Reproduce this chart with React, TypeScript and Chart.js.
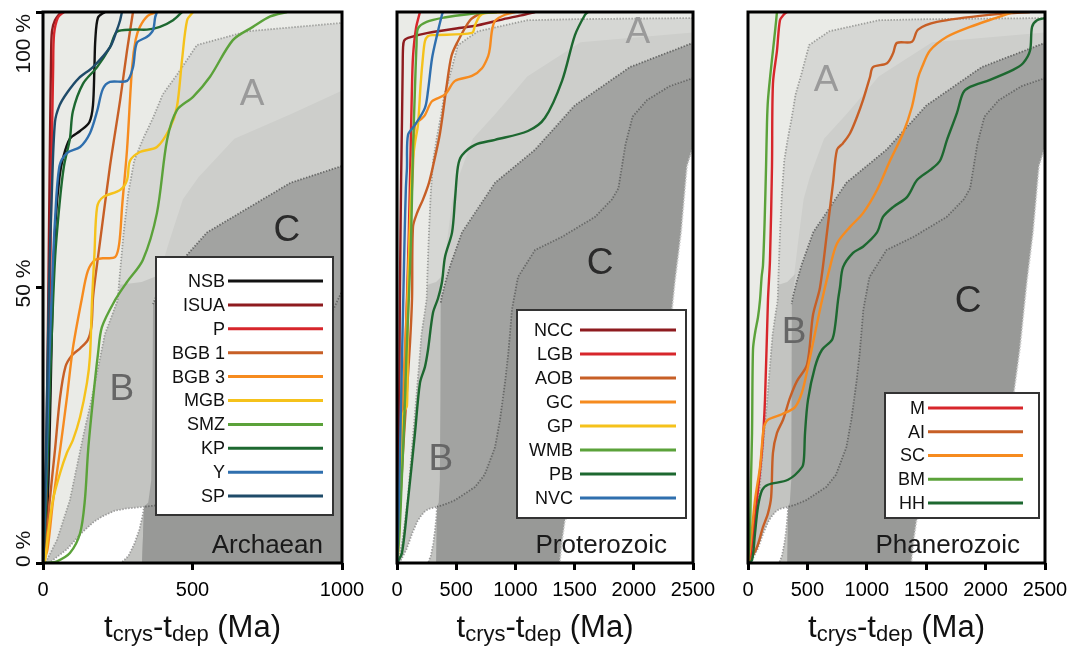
import React, { useEffect, useRef } from "react";
import { Chart, registerables } from "chart.js";
Chart.register(...registerables);

type P = [number, number];
const FONT = '"Liberation Sans", Arimo, Arial, Helvetica, sans-serif';

// ---------- shaded envelopes (Ma, %) ----------
const plotBack: P[] = [[-20, -2], [2600, -2], [2600, 102], [-20, 102]];
const envAEdge: P[] = [[2600, 99], [2500, 98.9], [1500, 98.7], [1100, 98.5], [684, 96.5], [515, 94], [448, 88.6], [400, 85], [370, 81], [335, 77], [305, 73], [285, 67], [270, 60], [258, 53], [250, 47.7], [207, 41.5], [185, 35.6], [162, 29.6], [137, 23.6], [113, 17.4], [90, 11.4], [47, 4.2], [13, 0.5], [5, 0]];
const envA2Edge: P[] = [[2600, 96.4], [2500, 96.3], [1550, 94.5], [1100, 88.3], [990, 85.5], [830, 81.5], [640, 77], [520, 70], [468, 66], [420, 58], [390, 52.5]];
const envBArea: P[] = [[400, 52.5], [330, 51], [258, 50.5], [250, 47.7], [207, 41.5], [185, 35.6], [162, 29.6], [137, 23.6], [113, 17.4], [90, 11.4], [47, 4.2], [13, 0.5], [5, 0], [5, -2], [368, -2], [368, 47]];
const envCOuterEdge: P[] = [[2600, 95], [2500, 94.4], [1968, 90], [1500, 83], [1166, 75], [828, 69], [549, 60], [450, 54], [410, 51], [380, 48.5], [368, 47]];
const envCOuterFoot: P[] = [[366, 30], [362, 15], [352, 11], [338, 10.2]];
const envCInnerEdge: P[] = [[2600, 88.5], [2500, 88], [2300, 86.5], [2111, 84], [1990, 81], [1930, 76], [1900, 72], [1870, 68], [1816, 66], [1672, 62.8], [1394, 59.2], [1166, 56.8], [1022, 51.9], [971, 46], [940, 38], [912, 32.7], [870, 26], [828, 21], [740, 16], [659, 13.8], [490, 11.4], [400, 10.6], [338, 10.2]];
const envCRightEdge: P[] = [[2600, 76], [2500, 75.5], [2450, 72], [2400, 60], [2348, 51], [2290, 39], [2240, 31], [2150, 24], [1950, 18], [1700, 13], [1480, 9.5], [1420, 7.8], [1395, 4], [1375, 0]];
const holeTopEdge: P[] = [[18, 0], [30, 0.4], [80, 2.5], [130, 5.5], [170, 7.5], [200, 8.5], [240, 9.5], [280, 9.9], [338, 10.2]];
const holeRightEdge: P[] = [[338, 10.2], [333, 8.5], [322, 6], [306, 3.5], [286, 1.3], [262, 0]];

// ---------- Archaean ----------
const nsb: P[] = [[0, 0], [15, 10], [25, 30], [33, 50], [42, 62], [55, 70], [67, 73.5], [90, 77], [124, 78.4], [155, 80], [167, 83], [172, 90], [175, 95], [184, 99], [207, 100]];
const isua: P[] = [[0, 0], [8, 10], [16, 40], [22, 70], [27, 92], [30, 96.5], [40, 98.5], [60, 100]];
const pSeries: P[] = [[0, 0], [10, 8], [20, 35], [28, 70], [34, 90], [37, 96], [50, 99], [70, 100]];
const bgb1: P[] = [[0, 0], [10, 3], [22, 11], [40, 20.5], [57, 30], [75, 35.6], [97, 37.7], [125, 39], [150, 40.5], [162, 43], [167, 48], [174, 51.4], [190, 58], [224, 72], [258, 84], [281, 93], [301, 100]];
const bgb3: P[] = [[0, 0], [15, 2.5], [33, 11], [57, 20.5], [80, 30], [100, 39], [130, 48], [150, 53], [174, 55], [200, 55.3], [241, 55.5], [255, 58], [265, 65], [281, 75], [298, 90], [310, 95], [324, 97.3], [350, 99.3], [381, 100]];
const mgb: P[] = [[0, 0], [7, 0.5], [17, 5.4], [33, 11.4], [57, 16.3], [80, 20], [100, 22.3], [124, 26.5], [147, 32.7], [157, 37.4], [164, 47.7], [172, 56], [181, 64.6], [201, 66.4], [258, 67.7], [281, 69.5], [291, 73], [324, 74.6], [381, 75.5], [425, 79], [448, 82.8], [465, 91.3], [482, 98.5], [502, 100]];
const smz: P[] = [[0, 0], [20, 0.05], [47, 0.3], [90, 1.8], [124, 5.4], [140, 11.4], [151, 20.5], [167, 29.6], [184, 38], [197, 42.8], [241, 47.7], [281, 51], [334, 55], [381, 63.5], [415, 76.8], [448, 82.2], [502, 84.6], [558, 88.2], [635, 94.9], [702, 97.3], [760, 99.2], [816, 100]];
const kp: P[] = [[0, 0], [10, 10], [25, 35], [40, 55], [55, 65], [70, 72], [90, 77], [100, 82], [134, 87], [181, 90], [224, 93.6], [247, 96.4], [301, 96.8], [348, 96.8], [391, 97.3], [435, 98.5], [465, 100]];
const ySeries: P[] = [[0, 0], [10, 15], [20, 35], [30, 50], [40, 62], [55, 72], [80, 74.4], [124, 75.5], [157, 78], [181, 82], [200, 86], [224, 87.3], [281, 87.5], [301, 90], [314, 94.4], [348, 95.5], [368, 96.7], [375, 99], [381, 100]];
const sp: P[] = [[0, 0], [10, 20], [20, 50], [30, 68], [40, 80], [55, 83], [80, 85.3], [120, 88], [167, 90], [224, 93.6], [247, 96.7], [258, 98.5], [264, 100]];

// ---------- Proterozoic ----------
const ncc: P[] = [[0, 0], [15, 20], [25, 50], [35, 70], [42, 80], [48, 90], [51, 93.5], [60, 94.8], [93, 95.3], [262, 96.2], [500, 97], [684, 97.6], [900, 98.7], [1050, 99.4], [1166, 100]];
const lgb: P[] = [[0, 0], [20, 10], [45, 25], [70, 38], [84, 47.7], [100, 60], [115, 75], [125, 85], [135, 91.8], [160, 97], [194, 100]];
const aob: P[] = [[0, 0], [20, 8], [50, 20], [80, 30], [110, 40], [127, 48], [135, 61], [169, 63.5], [220, 66], [270, 69], [304, 72], [363, 78], [422, 87], [460, 92], [507, 94.4], [617, 98.5], [701, 99.7], [750, 100]];
const gc: P[] = [[0, 0], [20, 10], [40, 25], [60, 35], [80, 45], [100, 55], [120, 65], [135, 72], [152, 79.5], [200, 80.5], [236, 81.3], [296, 83.8], [405, 85], [490, 87.5], [633, 88.4], [718, 89.8], [770, 92], [785, 93.5], [802, 96.6], [828, 98.4], [912, 99.5], [1000, 100]];
const gp: P[] = [[0, 0], [10, 2], [25, 10], [42, 26.5], [60, 27.5], [84, 28.5], [90, 40], [95, 50], [110, 62], [127, 71.7], [150, 76], [177, 79.5], [200, 87], [220, 92], [236, 94.7], [260, 95.6], [296, 95.8], [633, 96.2], [659, 97.6], [700, 99.3], [750, 99.8], [912, 100]];
const wmb: P[] = [[0, 0], [20, 5], [40, 15], [60, 25], [80, 38], [100, 48], [120, 60], [135, 75], [150, 85], [165, 94], [177, 97], [250, 98.2], [400, 99], [600, 99.6], [845, 100]];
const pb: P[] = [[0, 0], [42, 1.8], [93, 11.4], [152, 23.6], [194, 32.7], [236, 35.6], [262, 38.7], [304, 45.4], [346, 48], [380, 51], [405, 55.5], [465, 60], [490, 66], [515, 72], [549, 74], [659, 75.9], [828, 76.8], [1106, 78.4], [1250, 80.8], [1394, 87.5], [1503, 95.8], [1588, 99.5], [1613, 100]];
const nvc: P[] = [[0, 0], [15, 10], [30, 25], [45, 40], [55, 50], [65, 60], [75, 68], [84, 71.7], [93, 77.7], [152, 79.5], [236, 82.6], [262, 85.7], [296, 91.6], [338, 95.8], [380, 99.5], [389, 100]];

// ---------- Phanerozoic ----------
const mSeries: P[] = [[0, 0], [17, 0.5], [59, 8.3], [118, 20.5], [143, 29.6], [168, 47.7], [185, 55], [202, 72], [210, 87], [244, 93], [269, 98.5], [300, 99.5], [328, 100]];
const ai: P[] = [[0, 0], [17, 0.5], [76, 2.9], [126, 6.5], [168, 9], [195, 12], [210, 20], [244, 23.6], [295, 26], [354, 30], [412, 33], [497, 36], [547, 45], [606, 50], [665, 60], [716, 69], [749, 75], [800, 76.2], [859, 78], [918, 81], [968, 84], [1027, 88.2], [1052, 90], [1170, 90.7], [1221, 92.5], [1254, 94.4], [1380, 94.6], [1431, 96.8], [1591, 98.2], [2037, 99.5], [2374, 100]];
const sc: P[] = [[0, 0], [17, 2.4], [59, 11.4], [101, 17.4], [120, 22], [135, 24.7], [168, 26], [286, 27], [396, 28.3], [455, 31], [505, 35.6], [564, 41.7], [623, 47.7], [690, 53.7], [749, 58], [859, 61], [968, 63.5], [1086, 67.7], [1195, 73], [1305, 78], [1380, 82.8], [1431, 88], [1465, 90], [1532, 93], [1675, 95.5], [1869, 97.3], [2096, 99], [2231, 100]];
const bm: P[] = [[0, 0], [10, 3], [17, 5.4], [25, 15], [34, 23.6], [42, 38.7], [59, 41.7], [84, 44.6], [101, 47.7], [115, 52], [126, 54], [140, 62], [152, 72], [160, 80], [168, 84], [190, 89], [210, 93], [230, 97], [244, 100]];
const hh: P[] = [[0, 0], [34, 0.5], [59, 5.4], [84, 10.2], [118, 13.2], [168, 14.2], [337, 15.1], [455, 17.4], [471, 19], [480, 23.6], [505, 29.6], [564, 35.6], [623, 38.7], [707, 40.5], [732, 42.8], [758, 47.7], [774, 50], [800, 53.7], [884, 56.3], [968, 57.4], [1086, 60], [1136, 62.8], [1221, 64.6], [1338, 66.4], [1423, 69.5], [1532, 71.3], [1616, 73], [1675, 76.8], [1759, 81.7], [1810, 85.3], [1869, 86.4], [2037, 87.7], [2231, 89.5], [2315, 90.7], [2374, 93], [2391, 97.3], [2433, 98.5], [2500, 98.9]];

const xTicksArchaean = [0, 500, 1000];
const xTicksLong = [0, 500, 1000, 1500, 2000, 2500];
const yTickLabels = ["0 %", "50 %", "100 %"];

const C = {
  black: "#111111", darkRed: "#8e1b1f", red: "#d7262b", rust: "#c75f26", orange: "#f68b1f",
  yellow: "#f5c21b", lightGreen: "#5ba23a", darkGreen: "#1d6830", blue: "#2f6fae", navy: "#1f4b69",
};

type Series = { name: string; pts: P[]; color: string };
type PanelCfg = {
  key: string; left: number; width: number; plotLeft: number; plotRight: number; xMax: number; xTicks: number[];
  series: Series[]; name: string; nameRight: number; legendBox: number[]; legendY0: number; legendStep: number;
  legendTextRight: number; legendLine: number[]; yLabels: boolean; letters: { t: string; at: P; color: string }[];
};

const panels: PanelCfg[] = [
  {
    key: "arch", left: 0, width: 380, plotLeft: 43, plotRight: 342, xMax: 1000, xTicks: xTicksArchaean,
    series: [
      { name: "NSB", pts: nsb, color: C.black }, { name: "ISUA", pts: isua, color: C.darkRed },
      { name: "P", pts: pSeries, color: C.red }, { name: "BGB 1", pts: bgb1, color: C.rust },
      { name: "BGB 3", pts: bgb3, color: C.orange }, { name: "MGB", pts: mgb, color: C.yellow },
      { name: "SMZ", pts: smz, color: C.lightGreen }, { name: "KP", pts: kp, color: C.darkGreen },
      { name: "Y", pts: ySeries, color: C.blue }, { name: "SP", pts: sp, color: C.navy },
    ],
    name: "Archaean", nameRight: 323, legendBox: [156, 257, 333, 515], legendY0: 281, legendStep: 23.9,
    legendTextRight: 225, legendLine: [228, 323], yLabels: true,
    letters: [{ t: "A", at: [699, 85], color: "#9a9a9a" }, { t: "B", at: [264, 31.4], color: "#666666" }, { t: "C", at: [816, 60.3], color: "#2a2a2a" }],
  },
  {
    key: "prot", left: 350, width: 380, plotLeft: 397, plotRight: 693, xMax: 2500, xTicks: xTicksLong,
    series: [
      { name: "NCC", pts: ncc, color: C.darkRed }, { name: "LGB", pts: lgb, color: C.red },
      { name: "AOB", pts: aob, color: C.rust }, { name: "GC", pts: gc, color: C.orange },
      { name: "GP", pts: gp, color: C.yellow }, { name: "WMB", pts: wmb, color: C.lightGreen },
      { name: "PB", pts: pb, color: C.darkGreen }, { name: "NVC", pts: nvc, color: C.blue },
    ],
    name: "Proterozoic", nameRight: 667, legendBox: [517, 310, 686, 518], legendY0: 330, legendStep: 24,
    legendTextRight: 573, legendLine: [580, 676], yLabels: false,
    letters: [{ t: "A", at: [2035, 96.2], color: "#9a9a9a" }, { t: "B", at: [370, 18.7], color: "#666666" }, { t: "C", at: [1715, 54.3], color: "#2a2a2a" }],
  },
  {
    key: "phan", left: 702, width: 384, plotLeft: 748, plotRight: 1045, xMax: 2500, xTicks: xTicksLong,
    series: [
      { name: "M", pts: mSeries, color: C.red }, { name: "AI", pts: ai, color: C.rust },
      { name: "SC", pts: sc, color: C.orange }, { name: "BM", pts: bm, color: C.lightGreen },
      { name: "HH", pts: hh, color: C.darkGreen },
    ],
    name: "Phanerozoic", nameRight: 1020, legendBox: [885, 393, 1039, 518], legendY0: 408, legendStep: 23.75,
    legendTextRight: 925, legendLine: [928, 1023], yLabels: false,
    letters: [{ t: "A", at: [657, 87.5], color: "#9a9a9a" }, { t: "B", at: [387, 41.7], color: "#666666" }, { t: "C", at: [1852, 47.4], color: "#2a2a2a" }],
  },
];

const xy = (pts: P[]) => pts.map(([x, y]) => ({ x, y }));

function buildDatasets(p: PanelCfg) {
  const regions: { pts: P[]; color: string }[] = [
    { pts: plotBack, color: "#eaebe7" },
    { pts: [...envAEdge, [5, -2], [2600, -2]], color: "#d6d7d4" },
    { pts: [...envA2Edge, [390, -2], [2600, -2]], color: "#cdcecb" },
    { pts: envBArea, color: "#c3c4c1" },
    { pts: [...envCOuterEdge, ...envCOuterFoot, [330, -2], [2600, -2]], color: "#a2a3a1" },
    { pts: [...envCInnerEdge, [330, -2], [2600, -2]], color: "#989997" },
    { pts: [...envCRightEdge, [1372, -2], [2600, -2]], color: "#ffffff" },
    { pts: [...holeTopEdge, ...holeRightEdge.slice(1), [262, -2], [18, -2]], color: "#ffffff" },
  ];
  const regionSets = regions.map((r, i) => ({
    label: "", data: xy(r.pts), showLine: true, fill: "shape", backgroundColor: r.color,
    borderColor: "rgba(0,0,0,0)", borderWidth: 0, pointRadius: 0, tension: 0, order: 300 - i, clip: 0,
  }));
  const dotted: { pts: P[]; color: string }[] = [
    { pts: envAEdge, color: "#9d9e9b" },
    { pts: envCOuterEdge, color: "#676867" },
    { pts: envCInnerEdge, color: "#676867" },
    { pts: envCRightEdge, color: "#cfcfcf" },
    { pts: [...holeTopEdge, ...holeRightEdge.slice(1)], color: "#9a9a9a" },
  ];
  const dottedSets = dotted.map((d, i) => ({
    label: "", data: xy(d.pts), showLine: true, fill: false, borderColor: d.color, borderWidth: 1.8,
    borderDash: [1.4, 1.6], pointRadius: 0, tension: 0, order: 200 - i, clip: 0,
  }));
  const lineSets = p.series.map((s, i) => ({
    label: s.name, data: xy(s.pts), showLine: true, fill: false, borderColor: s.color, borderWidth: 2.4,
    pointRadius: 0, tension: 0.3, order: 100 - i, clip: 0,
  }));
  return [...regionSets, ...dottedSets, ...lineSets];
}

function decorPlugin(p: PanelCfg) {
  return {
    id: "decor_" + p.key,
    afterDatasetsDraw(chart: any) {
      const { ctx, chartArea: a } = chart;
      const xs = chart.scales.x, ys = chart.scales.y;
      const L = p.left;
      ctx.save();
      ctx.font = `37px ${FONT}`;
      ctx.textAlign = "center";
      ctx.textBaseline = "middle";
      for (const r of p.letters) {
        ctx.fillStyle = r.color;
        ctx.fillText(r.t, xs.getPixelForValue(r.at[0]), ys.getPixelForValue(r.at[1]));
      }
      ctx.strokeStyle = "#000";
      ctx.lineWidth = 3;
      ctx.strokeRect(a.left, a.top, a.right - a.left, a.bottom - a.top);
      ctx.font = `26px ${FONT}`;
      ctx.textAlign = "right";
      ctx.textBaseline = "alphabetic";
      ctx.fillStyle = "#1a1a1a";
      ctx.fillText(p.name, p.nameRight - L, 553);
      const [bx0, by0, bx1, by1] = p.legendBox;
      ctx.fillStyle = "#ffffff";
      ctx.fillRect(bx0 - L, by0, bx1 - bx0, by1 - by0);
      ctx.strokeStyle = "#333";
      ctx.lineWidth = 2;
      ctx.strokeRect(bx0 - L, by0, bx1 - bx0, by1 - by0);
      ctx.font = `18px ${FONT}`;
      ctx.textBaseline = "middle";
      ctx.textAlign = "right";
      p.series.forEach((s, i) => {
        const yy = p.legendY0 + i * p.legendStep;
        ctx.fillStyle = "#111";
        ctx.fillText(s.name, p.legendTextRight - L, yy + 1);
        ctx.strokeStyle = s.color;
        ctx.lineWidth = 3;
        ctx.beginPath();
        ctx.moveTo(p.legendLine[0] - L, yy);
        ctx.lineTo(p.legendLine[1] - L, yy);
        ctx.stroke();
      });
      const big = `31px ${FONT}`, small = `22px ${FONT}`;
      const parts: [string, string, number][] = [["t", big, 0], ["crys", small, 4], ["-t", big, 0], ["dep", small, 4], [" (Ma)", big, 0]];
      let total = 0;
      for (const [t, f] of parts) { ctx.font = f; total += ctx.measureText(t).width; }
      let cx = (a.left + a.right) / 2 - total / 2;
      ctx.textAlign = "left";
      ctx.textBaseline = "alphabetic";
      ctx.fillStyle = "#111";
      for (const [t, f, dy] of parts) {
        ctx.font = f;
        ctx.fillText(t, cx, 637 + dy);
        cx += ctx.measureText(t).width;
      }
      if (p.yLabels) {
        ctx.font = `21px ${FONT}`;
        ctx.textBaseline = "middle";
        const spots: [number, CanvasTextAlign][] = [[0, "left"], [50, "center"], [100, "right"]];
        spots.forEach(([v, al], i) => {
          let yy = ys.getPixelForValue(v);
          if (i === 0) yy += 4;
          if (i === 1) yy -= 4;
          if (i === 2) yy += 2;
          ctx.save();
          ctx.translate(24, yy);
          ctx.rotate(-Math.PI / 2);
          ctx.textAlign = al;
          ctx.fillText(yTickLabels[i], 0, 0);
          ctx.restore();
        });
      }
      ctx.restore();
    },
  };
}

function PanelChart({ p }: { p: PanelCfg }) {
  const ref = useRef<HTMLCanvasElement>(null);
  useEffect(() => {
    const chart = new Chart(ref.current as HTMLCanvasElement, {
      type: "scatter",
      data: { datasets: buildDatasets(p) as any },
      options: {
        responsive: false,
        animation: false,
        events: [],
        layout: { padding: { top: 12, right: p.left + p.width - p.plotRight, left: 0, bottom: 0 } },
        plugins: { legend: { display: false }, tooltip: { enabled: false } },
        scales: {
          x: {
            type: "linear", min: 0, max: p.xMax,
            afterBuildTicks: (s: any) => { s.ticks = p.xTicks.map((v) => ({ value: v })); },
            afterFit: (s: any) => { s.height = 650 - 563; },
            border: { display: false },
            grid: { display: true, drawOnChartArea: false, drawTicks: true, tickLength: 7, tickWidth: 3, tickColor: "#000" },
            ticks: { autoSkip: false, maxRotation: 0, padding: 8, color: "#000", font: { family: FONT, size: 20 }, callback: (v: any) => String(v) },
          },
          y: {
            type: "linear", min: 0, max: 100,
            afterBuildTicks: (s: any) => { s.ticks = [0, 50, 100].map((v) => ({ value: v })); },
            afterFit: (s: any) => { s.width = p.plotLeft - p.left; },
            border: { display: false },
            grid: { display: p.yLabels, drawOnChartArea: false, drawTicks: true, tickLength: 7, tickWidth: 3, tickColor: "#000" },
            ticks: { display: false },
          },
        },
      },
      plugins: [decorPlugin(p)],
    } as any);
    return () => chart.destroy();
  }, []);
  return (
    <canvas ref={ref} width={p.width} height={650}
      style={{ position: "absolute", left: p.left, top: 0, width: p.width, height: 650 }} />
  );
}

export default function App() {
  return (
    <div style={{ position: "fixed", left: 0, top: 0, width: 1086, height: 650, background: "#fff" }}>
      {panels.map((p) => <PanelChart key={p.key} p={p} />)}
    </div>
  );
}
